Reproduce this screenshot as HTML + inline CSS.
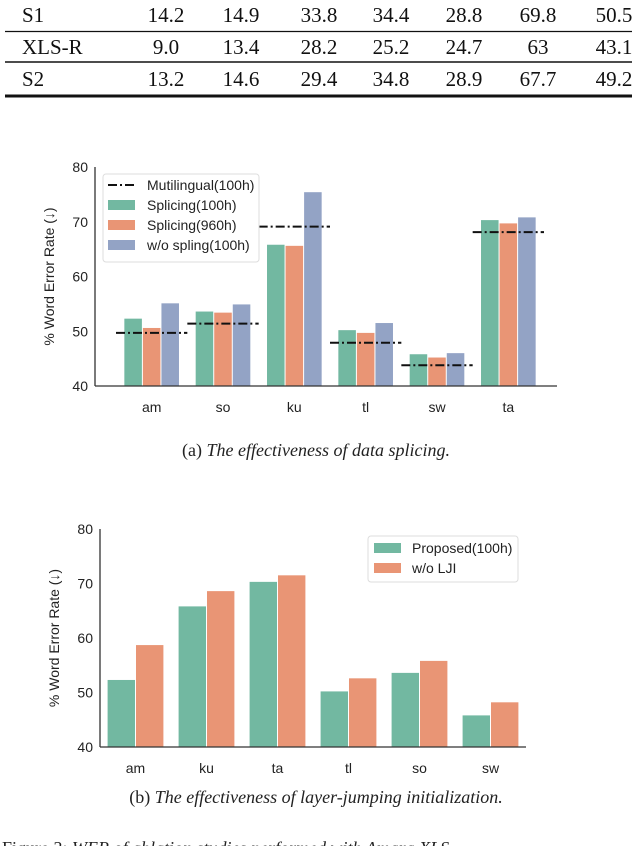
<!DOCTYPE html>
<html><head><meta charset="utf-8"><style>
html,body{margin:0;padding:0;background:#fff;width:632px;height:846px;overflow:hidden}
svg{display:block}
.tb{font-family:"Liberation Serif",serif;font-size:21px;fill:#111}
.ax{font-family:"Liberation Sans","DejaVu Sans",sans-serif;font-size:14px;fill:#222}
.cap{font-family:"Liberation Serif",serif;font-size:18px;fill:#222}
</style></head><body>
<svg id="page" width="632" height="846" viewBox="0 0 632 846">
<g id="table"></g>
<g id="chartA"></g>
<text class="cap" x="316" y="456" text-anchor="middle">(a) <tspan font-style="italic">The effectiveness of data splicing.</tspan></text>
<g id="chartB"></g>
<text class="cap" x="316" y="803" text-anchor="middle">(b) <tspan font-style="italic">The effectiveness of layer-jumping initialization.</tspan></text>
<text class="cap" x="2" y="854">Figure 3: <tspan font-style="italic">WER of ablation studies performed with Amara XLS</tspan></text>
</svg>
<script>
const NS="http://www.w3.org/2000/svg";
function mk(tag,attrs,parent,txt){const e=document.createElementNS(NS,tag);for(const k in attrs)e.setAttribute(k,attrs[k]);if(txt!==undefined)e.textContent=txt;parent.appendChild(e);return e;}

// ---- table ----
const tableRows=["S1","XLS-R","S2"];
const tableVals=[["14.2","14.9","33.8","34.4","28.8","69.8","50.5"],["9.0","13.4","28.2","25.2","24.7","63","43.1"],["13.2","14.6","29.4","34.8","28.9","67.7","49.2"]];
(function(){
  const g=document.getElementById('table');
  const colX=[166,241,319,391,464,538,614];
  const rowY=[22,54,86];
  tableRows.forEach((r,i)=>{
    const t=mk('text',{class:'tb',x:22,y:rowY[i]},g,r);
    
    
    tableVals[i].forEach((v,j)=>{
      const c=mk('text',{class:'tb',x:colX[j],y:rowY[i],'text-anchor':'middle'},g,v);
      
      
    });
  });
  const l1=mk('line',{x1:5,x2:632,y1:31.5,y2:31.5,stroke:'#111','stroke-width':1.2},g);
  
  const l2=mk('line',{x1:5,x2:632,y1:62,y2:62,stroke:'#111','stroke-width':1.5},g);
  
  const l3=mk('line',{x1:5,x2:632,y1:96,y2:96,stroke:'#111','stroke-width':3},g);
  
})();

// ---- chart A data ----
const catsA=["am","so","ku","tl","sw","ta"];
const splice100=[52.3,53.6,65.8,50.2,45.8,70.3];
const splice960=[50.6,53.4,65.6,49.7,45.2,69.7];
const noSplice=[55.1,54.9,75.4,51.5,46.0,70.8];
const multiling=[49.7,51.4,69.1,47.9,43.8,68.1];
const yTicks=[40,50,60,70,80];
// ---- chart B data ----
const catsB=["am","ku","ta","tl","so","sw"];
const proposed=[52.3,65.8,70.3,50.2,53.6,45.8];
const noLJI=[58.7,68.6,71.5,52.6,55.8,48.2];

const GREEN="#72b8a1",ORANGE="#e99575",BLUE="#93a3c5";

function axes(g,ax0,c0,c1,yTop,yBot,cats,label,ylx){
  const yS=v=>yBot-(v-40)/40*(yBot-yTop);
  const step=(c1-c0)/cats.length;
  const xC=i=>c0+step*(i+0.5);
  yTicks.forEach(t=>{const e=mk('text',{class:'ax',x:ax0-7,y:yS(t)+5,'text-anchor':'end'},g,t);
    });
  cats.forEach((c,i)=>{const e=mk('text',{class:'ax',x:xC(i),y:yBot+26,'text-anchor':'middle'},g,c);
    });
  const yl=mk('text',{class:'ax',transform:`translate(${ylx},${(yTop+yBot)/2}) rotate(-90)`,'text-anchor':'middle'},g,label);
  
  return {yS,xC,step};
}
function axisLines(g,x0,x1,yTop,yBot){
  const a=mk('line',{x1:x0,x2:x0,y1:yTop,y2:yBot,stroke:'#333','stroke-width':1.3},g);
  
  const b=mk('line',{x1:x0,x2:x1,y1:yBot,y2:yBot,stroke:'#333','stroke-width':1.3},g);
  
}

(function(){
  const g=document.getElementById('chartA');
  const x0=95,x1=557,yTop=167,yBot=386;
  const {yS,xC,step}=axes(g,x0,116,544,yTop,yBot,catsA,"% Word Error Rate (↓)",54);
  const bw=step*0.78/3;
  const series=[[splice100,GREEN,'splicing-100h'],[splice960,ORANGE,'splicing-960h'],[noSplice,BLUE,'no-splicing-100h']];
  catsA.forEach((c,i)=>{
    series.forEach((s,k)=>{
      const x=xC(i)-step*0.39+k*bw;
      const r=mk('rect',{x:x+0.5,y:yS(s[0][i]),width:bw-1,height:yBot-yS(s[0][i]),fill:s[1]},g);
      
      
    });
    const l=mk('line',{x1:xC(i)-step/2,x2:xC(i)+step/2,y1:yS(multiling[i]),y2:yS(multiling[i]),stroke:'#111','stroke-width':2,'stroke-dasharray':'9 3 2 3'},g);
    
    
  });
  axisLines(g,x0,x1,yTop,yBot);
  const lg=mk('g',{},g);
  
  mk('rect',{x:103,y:174,width:156,height:88,rx:3,fill:'#fff',stroke:'#ddd'},lg);
  const items=[['Mutilingual(100h)',null],['Splicing(100h)',GREEN],['Splicing(960h)',ORANGE],['w/o spling(100h)',BLUE]];
  items.forEach((it,i)=>{
    const y=185+i*20;
    if(it[1]===null) mk('line',{x1:108,x2:135,y1:y,y2:y,stroke:'#111','stroke-width':2,'stroke-dasharray':'9 3 2 3'},lg);
    else mk('rect',{x:108,y:y-5,width:27,height:10,fill:it[1]},lg);
    const t=mk('text',{class:'ax',x:147,y:y+5,'font-size':'13.5'},lg,it[0]);
    
  });
})();

(function(){
  const g=document.getElementById('chartB');
  const x0=100,x1=526,yTop=529,yBot=747;
  const {yS,xC,step}=axes(g,x0,100,526,yTop,yBot,catsB,"% Word Error Rate (↓)",59);
  const bw=step*0.8/2;
  const series=[[proposed,GREEN,'proposed'],[noLJI,ORANGE,'no-lji']];
  catsB.forEach((c,i)=>{
    series.forEach((s,k)=>{
      const x=xC(i)-step*0.4+k*bw;
      const r=mk('rect',{x:x+0.5,y:yS(s[0][i]),width:bw-1,height:yBot-yS(s[0][i]),fill:s[1]},g);
      
      
    });
  });
  axisLines(g,x0,x1,yTop,yBot);
  const lg=mk('g',{},g);
  
  mk('rect',{x:368,y:536,width:150,height:46,rx:3,fill:'#fff',stroke:'#ddd'},lg);
  [['Proposed(100h)',GREEN],['w/o LJI',ORANGE]].forEach((it,i)=>{
    const y=548+i*20;
    mk('rect',{x:374,y:y-5,width:27,height:10,fill:it[1]},lg);
    const t=mk('text',{class:'ax',x:412,y:y+5,'font-size':'13.5'},lg,it[0]);
    
  });
})();
</script>
</body></html>
